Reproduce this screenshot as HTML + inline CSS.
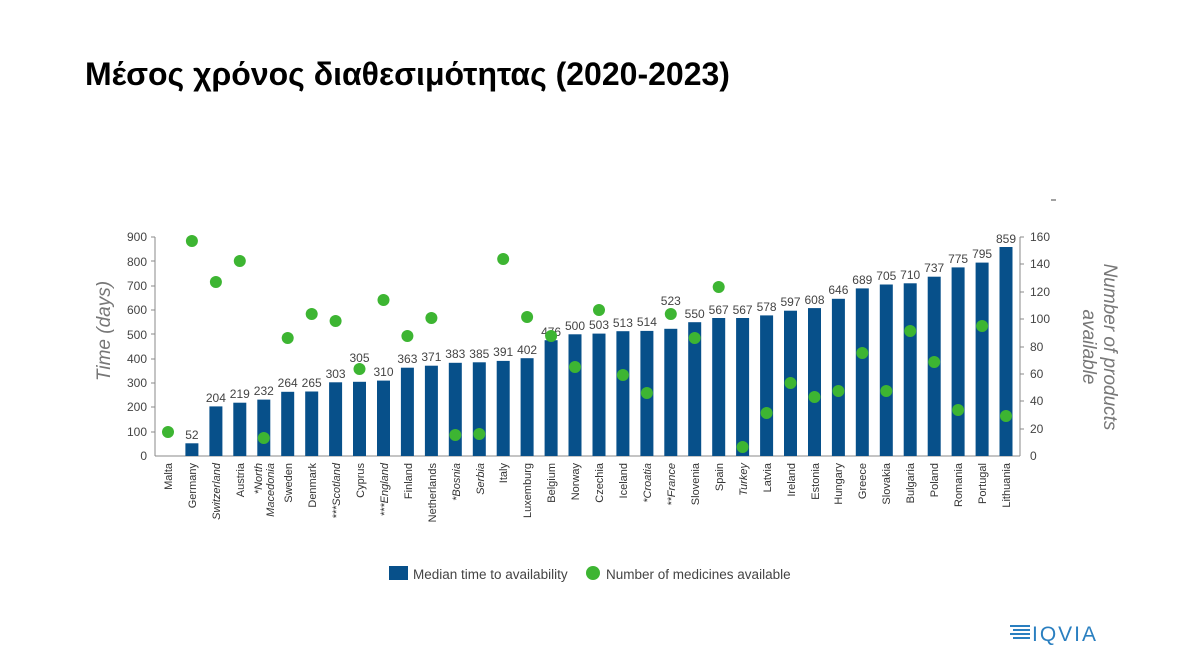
<!DOCTYPE html>
<html><head><meta charset="utf-8"><style>
body{margin:0;width:1200px;height:671px;background:#fff;overflow:hidden;font-family:"Liberation Sans",sans-serif}
h1{position:absolute;left:85px;top:56px;margin:0;font-size:32px;font-weight:bold;color:#000;font-family:"Liberation Sans","DejaVu Sans",sans-serif;white-space:nowrap}
</style></head><body>
<h1>Μέσος χρόνος διαθεσιμότητας (2020-2023)</h1>
<svg width="1200" height="671" style="position:absolute;left:0;top:0" font-family="Liberation Sans, sans-serif">
<line x1="1051" y1="200" x2="1056" y2="200" stroke="#444"/>
<g fill="#444" font-size="12" text-anchor="end">
<text x="147" y="460">0</text>
<text x="147" y="436">100</text><text x="147" y="411">200</text><text x="147" y="387">300</text><text x="147" y="363">400</text><text x="147" y="339">500</text><text x="147" y="314">600</text><text x="147" y="290">700</text><text x="147" y="266">800</text><text x="147" y="241">900</text>
</g>
<g stroke="#888"><line x1="155" y1="237" x2="155" y2="456"/><line x1="155" y1="456" x2="1020" y2="456"/><line x1="1020" y1="237" x2="1020" y2="456"/>
<line x1="151" y1="237" x2="155" y2="237"/><line x1="151" y1="261" x2="155" y2="261"/><line x1="151" y1="286" x2="155" y2="286"/><line x1="151" y1="310" x2="155" y2="310"/><line x1="151" y1="334" x2="155" y2="334"/><line x1="151" y1="359" x2="155" y2="359"/><line x1="151" y1="383" x2="155" y2="383"/><line x1="151" y1="407" x2="155" y2="407"/><line x1="151" y1="432" x2="155" y2="432"/>
<line x1="1020" y1="237" x2="1024" y2="237"/><line x1="1020" y1="264" x2="1024" y2="264"/><line x1="1020" y1="292" x2="1024" y2="292"/><line x1="1020" y1="319" x2="1024" y2="319"/><line x1="1020" y1="347" x2="1024" y2="347"/><line x1="1020" y1="374" x2="1024" y2="374"/><line x1="1020" y1="401" x2="1024" y2="401"/><line x1="1020" y1="429" x2="1024" y2="429"/></g>
<g fill="#444" font-size="12">
<text x="1030" y="460">0</text><text x="1030" y="433">20</text><text x="1030" y="405">40</text><text x="1030" y="378">60</text><text x="1030" y="351">80</text><text x="1030" y="323">100</text><text x="1030" y="296">120</text><text x="1030" y="268">140</text><text x="1030" y="241">160</text>
</g>
<text transform="translate(110,331) rotate(-90)" text-anchor="middle" font-size="19" font-style="italic" fill="#777">Time (days)</text>
<text transform="translate(1104,347) rotate(90)" text-anchor="middle" font-size="19" font-style="italic" fill="#777">Number of products</text>
<text transform="translate(1083,347) rotate(90)" text-anchor="middle" font-size="19" font-style="italic" fill="#777">available</text>
<g fill="#07508a">
<rect x="185.4" y="443.3" width="13" height="12.7"/><rect x="209.4" y="406.4" width="13" height="49.6"/><rect x="233.3" y="402.7" width="13" height="53.3"/><rect x="257.3" y="399.6" width="13" height="56.4"/><rect x="281.2" y="391.8" width="13" height="64.2"/><rect x="305.2" y="391.5" width="13" height="64.5"/><rect x="329.1" y="382.3" width="13" height="73.7"/><rect x="353" y="381.8" width="13" height="74.2"/><rect x="377" y="380.6" width="13" height="75.4"/><rect x="400.9" y="367.7" width="13" height="88.3"/><rect x="424.9" y="365.7" width="13" height="90.3"/><rect x="448.8" y="362.8" width="13" height="93.2"/><rect x="472.8" y="362.3" width="13" height="93.7"/><rect x="496.7" y="360.9" width="13" height="95.1"/><rect x="520.6" y="358.2" width="13" height="97.8"/><rect x="544.6" y="340.2" width="13" height="115.8"/><rect x="568.5" y="334.3" width="13" height="121.7"/><rect x="592.5" y="333.6" width="13" height="122.4"/><rect x="616.4" y="331.2" width="13" height="124.8"/><rect x="640.4" y="330.9" width="13" height="125.1"/><rect x="664.3" y="328.8" width="13" height="127.2"/><rect x="688.2" y="322.2" width="13" height="133.8"/><rect x="712.2" y="318" width="13" height="138"/><rect x="736.1" y="318" width="13" height="138"/><rect x="760.1" y="315.4" width="13" height="140.6"/><rect x="784" y="310.7" width="13" height="145.3"/><rect x="808" y="308.1" width="13" height="147.9"/><rect x="831.9" y="298.8" width="13" height="157.2"/><rect x="855.8" y="288.4" width="13" height="167.6"/><rect x="879.8" y="284.5" width="13" height="171.5"/><rect x="903.7" y="283.3" width="13" height="172.7"/><rect x="927.7" y="276.7" width="13" height="179.3"/><rect x="951.6" y="267.4" width="13" height="188.6"/><rect x="975.6" y="262.6" width="13" height="193.4"/><rect x="999.5" y="247" width="13" height="209"/>
</g>
<g fill="#444" font-size="12" text-anchor="middle">
<text x="191.9" y="439">52</text><text x="215.9" y="402">204</text><text x="239.8" y="398">219</text><text x="263.8" y="395">232</text><text x="287.7" y="387">264</text><text x="311.7" y="387">265</text><text x="335.6" y="378">303</text><text x="359.5" y="362">305</text><text x="383.5" y="376">310</text><text x="407.4" y="363">363</text><text x="431.4" y="361">371</text><text x="455.3" y="358">383</text><text x="479.3" y="358">385</text><text x="503.2" y="356">391</text><text x="527.1" y="354">402</text><text x="551.1" y="336">476</text><text x="575" y="330">500</text><text x="599" y="329">503</text><text x="622.9" y="327">513</text><text x="646.9" y="326">514</text><text x="670.8" y="305">523</text><text x="694.7" y="318">550</text><text x="718.7" y="314">567</text><text x="742.6" y="314">567</text><text x="766.6" y="311">578</text><text x="790.5" y="306">597</text><text x="814.5" y="304">608</text><text x="838.4" y="294">646</text><text x="862.3" y="284">689</text><text x="886.3" y="280">705</text><text x="910.2" y="279">710</text><text x="934.2" y="272">737</text><text x="958.1" y="263">775</text><text x="982.1" y="258">795</text><text x="1006" y="243">859</text>
</g>
<g fill="#3db532">
<circle cx="168" cy="432" r="6"/><circle cx="191.9" cy="241" r="6"/><circle cx="215.9" cy="282" r="6"/><circle cx="239.8" cy="261" r="6"/><circle cx="263.8" cy="438" r="6"/><circle cx="287.7" cy="338" r="6"/><circle cx="311.7" cy="314" r="6"/><circle cx="335.6" cy="321" r="6"/><circle cx="359.5" cy="369" r="6"/><circle cx="383.5" cy="300" r="6"/><circle cx="407.4" cy="336" r="6"/><circle cx="431.4" cy="318" r="6"/><circle cx="455.3" cy="435" r="6"/><circle cx="479.3" cy="434" r="6"/><circle cx="503.2" cy="259" r="6"/><circle cx="527.1" cy="317" r="6"/><circle cx="551.1" cy="336" r="6"/><circle cx="575" cy="367" r="6"/><circle cx="599" cy="310" r="6"/><circle cx="622.9" cy="375" r="6"/><circle cx="646.9" cy="393" r="6"/><circle cx="670.8" cy="314" r="6"/><circle cx="694.7" cy="338" r="6"/><circle cx="718.7" cy="287" r="6"/><circle cx="742.6" cy="447" r="6"/><circle cx="766.6" cy="413" r="6"/><circle cx="790.5" cy="383" r="6"/><circle cx="814.5" cy="397" r="6"/><circle cx="838.4" cy="391" r="6"/><circle cx="862.3" cy="353" r="6"/><circle cx="886.3" cy="391" r="6"/><circle cx="910.2" cy="331" r="6"/><circle cx="934.2" cy="362" r="6"/><circle cx="958.1" cy="410" r="6"/><circle cx="982.1" cy="326" r="6"/><circle cx="1006" cy="416" r="6"/>
</g>
<g fill="#333" font-size="11" text-anchor="end">
<text transform="translate(172,463) rotate(-90)">Malta</text>
<text transform="translate(196,463) rotate(-90)">Germany</text>
<text transform="translate(220,463) rotate(-90)" font-style="italic">Switzerland</text>
<text transform="translate(244,463) rotate(-90)">Austria</text>
<text transform="translate(262,463) rotate(-90)" font-style="italic">*North</text>
<text transform="translate(274,463) rotate(-90)" font-style="italic">Macedonia</text>
<text transform="translate(292,463) rotate(-90)">Sweden</text>
<text transform="translate(316,463) rotate(-90)">Denmark</text>
<text transform="translate(340,463) rotate(-90)" font-style="italic">***Scotland</text>
<text transform="translate(364,463) rotate(-90)">Cyprus</text>
<text transform="translate(388,463) rotate(-90)" font-style="italic">***England</text>
<text transform="translate(412,463) rotate(-90)">Finland</text>
<text transform="translate(436,463) rotate(-90)">Netherlands</text>
<text transform="translate(460,463) rotate(-90)" font-style="italic">*Bosnia</text>
<text transform="translate(484,463) rotate(-90)" font-style="italic">Serbia</text>
<text transform="translate(507,463) rotate(-90)">Italy</text>
<text transform="translate(531,463) rotate(-90)">Luxemburg</text>
<text transform="translate(555,463) rotate(-90)">Belgium</text>
<text transform="translate(579,463) rotate(-90)">Norway</text>
<text transform="translate(603,463) rotate(-90)">Czechia</text>
<text transform="translate(627,463) rotate(-90)">Iceland</text>
<text transform="translate(651,463) rotate(-90)" font-style="italic">*Croatia</text>
<text transform="translate(675,463) rotate(-90)" font-style="italic">**France</text>
<text transform="translate(699,463) rotate(-90)">Slovenia</text>
<text transform="translate(723,463) rotate(-90)">Spain</text>
<text transform="translate(747,463) rotate(-90)" font-style="italic">Turkey</text>
<text transform="translate(771,463) rotate(-90)">Latvia</text>
<text transform="translate(795,463) rotate(-90)">Ireland</text>
<text transform="translate(819,463) rotate(-90)">Estonia</text>
<text transform="translate(842,463) rotate(-90)">Hungary</text>
<text transform="translate(866,463) rotate(-90)">Greece</text>
<text transform="translate(890,463) rotate(-90)">Slovakia</text>
<text transform="translate(914,463) rotate(-90)">Bulgaria</text>
<text transform="translate(938,463) rotate(-90)">Poland</text>
<text transform="translate(962,463) rotate(-90)">Romania</text>
<text transform="translate(986,463) rotate(-90)">Portugal</text>
<text transform="translate(1010,463) rotate(-90)">Lithuania</text>
</g>
<rect x="389" y="566" width="19" height="14" fill="#07508a"/>
<text x="413" y="579" font-size="13.5" fill="#444">Median time to availability</text>
<circle cx="593" cy="573" r="7" fill="#3db532"/>
<text x="606" y="579" font-size="13.5" fill="#444">Number of medicines available</text>
<g fill="#2a7fc0"><rect x="1010" y="625" width="20" height="2"/><rect x="1013" y="629" width="17" height="2"/><rect x="1010" y="633" width="20" height="2"/><rect x="1013" y="637" width="17" height="2"/></g>
<text x="1032" y="641" font-size="21" fill="#2a7fc0" letter-spacing="2">IQVIA</text>
</svg>
</body></html>
